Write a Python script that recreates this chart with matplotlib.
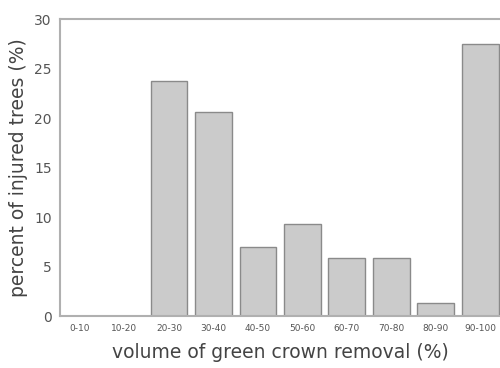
import matplotlib.pyplot as plt
import numpy as np

categories = ["0-10", "10-20", "20-30", "30-40", "40-50", "50-60",
              "60-70", "70-80", "80-90", "90-100"]
percent_injured = [0, 0, 23.8, 20.6, 7.0, 9.3, 5.9, 5.9, 1.3, 27.5]
y_ticks = [0, 5, 10, 15, 20, 25, 30]

fig = plt.figure(figsize=(5, 3.68), dpi=100)
ax = fig.add_axes([0.12, 0.141, 0.88, 0.807])

x = np.arange(len(categories))
ax.bar(x, percent_injured, width=0.83, color="#cbcbcb",
       edgecolor="#8a8a8a", linewidth=1.0)

ax.set_xlim(-0.45, 9.44)
ax.set_ylim(0, 30)
ax.set_xticks(x)
ax.set_xticklabels(categories, fontsize=6.5, color="#555555")
ax.set_yticks(y_ticks)
ax.set_yticklabels([str(t) for t in y_ticks], fontsize=10, color="#555555")
ax.tick_params(length=0, pad=6)

for side in ["left", "top", "bottom"]:
    ax.spines[side].set_color("#b0b0b0")
    ax.spines[side].set_linewidth(1.5)
ax.spines["right"].set_visible(False)

ax.set_ylabel("percent of injured trees (%)", fontsize=13.5, color="#444444",
              labelpad=4)
ax.set_xlabel("volume of green crown removal (%)", fontsize=13.5,
              color="#444444", labelpad=7)

fig.savefig("out.png", dpi=100)
